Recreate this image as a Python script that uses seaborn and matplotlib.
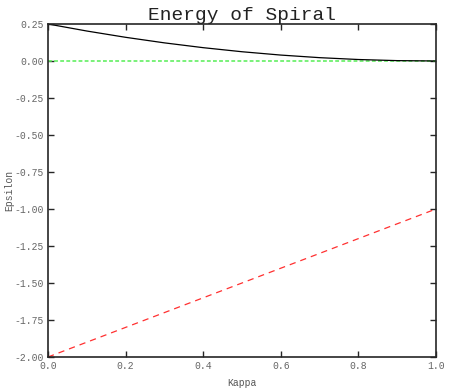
import numpy as np
import pandas as pd
import matplotlib
matplotlib.use("Agg")
import matplotlib.pyplot as plt
import seaborn as sns

# values
kappa = [0.0, 0.1, 0.2, 0.3, 0.4, 0.5, 0.6, 0.7, 0.8, 0.9, 1.0]
energy = [0.25, 0.2025, 0.16, 0.1225, 0.09, 0.0625, 0.04, 0.0225, 0.01, 0.0025, 0.0]
zero_line = [0.0] * len(kappa)
lower_bound = [-2.0, -1.9, -1.8, -1.7, -1.6, -1.5, -1.4, -1.3, -1.2, -1.1, -1.0]

xticks = [0.0, 0.2, 0.4, 0.6, 0.8, 1.0]
yticks = [-2.0, -1.75, -1.5, -1.25, -1.0, -0.75, -0.5, -0.25, 0.0, 0.25]

sns.set_style("ticks")
plt.rcParams["font.family"] = ["Liberation Mono", "DejaVu Sans Mono"]

df = pd.DataFrame({"Kappa": kappa, "energy": energy, "zero": zero_line, "lower": lower_bound})

fig = plt.figure(figsize=(4.58, 3.92), dpi=100)
ax = fig.add_axes([0.1048, 0.0893, 0.8472, 0.8495])

sns.lineplot(data=df, x="Kappa", y="zero", ax=ax, color="#55ee55", lw=1.1,
             linestyle=(0, (2.5, 1.5)))
sns.lineplot(data=df, x="Kappa", y="energy", ax=ax, color="black", lw=0.9)
sns.lineplot(data=df, x="Kappa", y="lower", ax=ax, color="#ff3030", lw=0.9,
             linestyle=(0, (5, 4)))

ax.set_xlim(0, 1)
ax.set_ylim(-2, 0.25)
ax.set_xticks(xticks)
ax.set_yticks(yticks)
ax.set_xticklabels([f"{v:.1f}" for v in xticks])
ax.set_yticklabels([f"{v:.2f}" for v in yticks])
ax.tick_params(direction="in", length=4, width=1, top=True, right=True,
               labelsize=7, labelcolor="#666666", pad=3)
for s in ax.spines.values():
    s.set_linewidth(1.2)

ax.set_xlabel("Kappa", fontsize=7, color="#555555", labelpad=5)
ax.set_ylabel("Epsilon", fontsize=7, color="#555555", labelpad=0)
ax.set_title("Energy of Spiral", fontsize=14, color="#222222", pad=3)

fig.savefig("out.png", dpi=100)
